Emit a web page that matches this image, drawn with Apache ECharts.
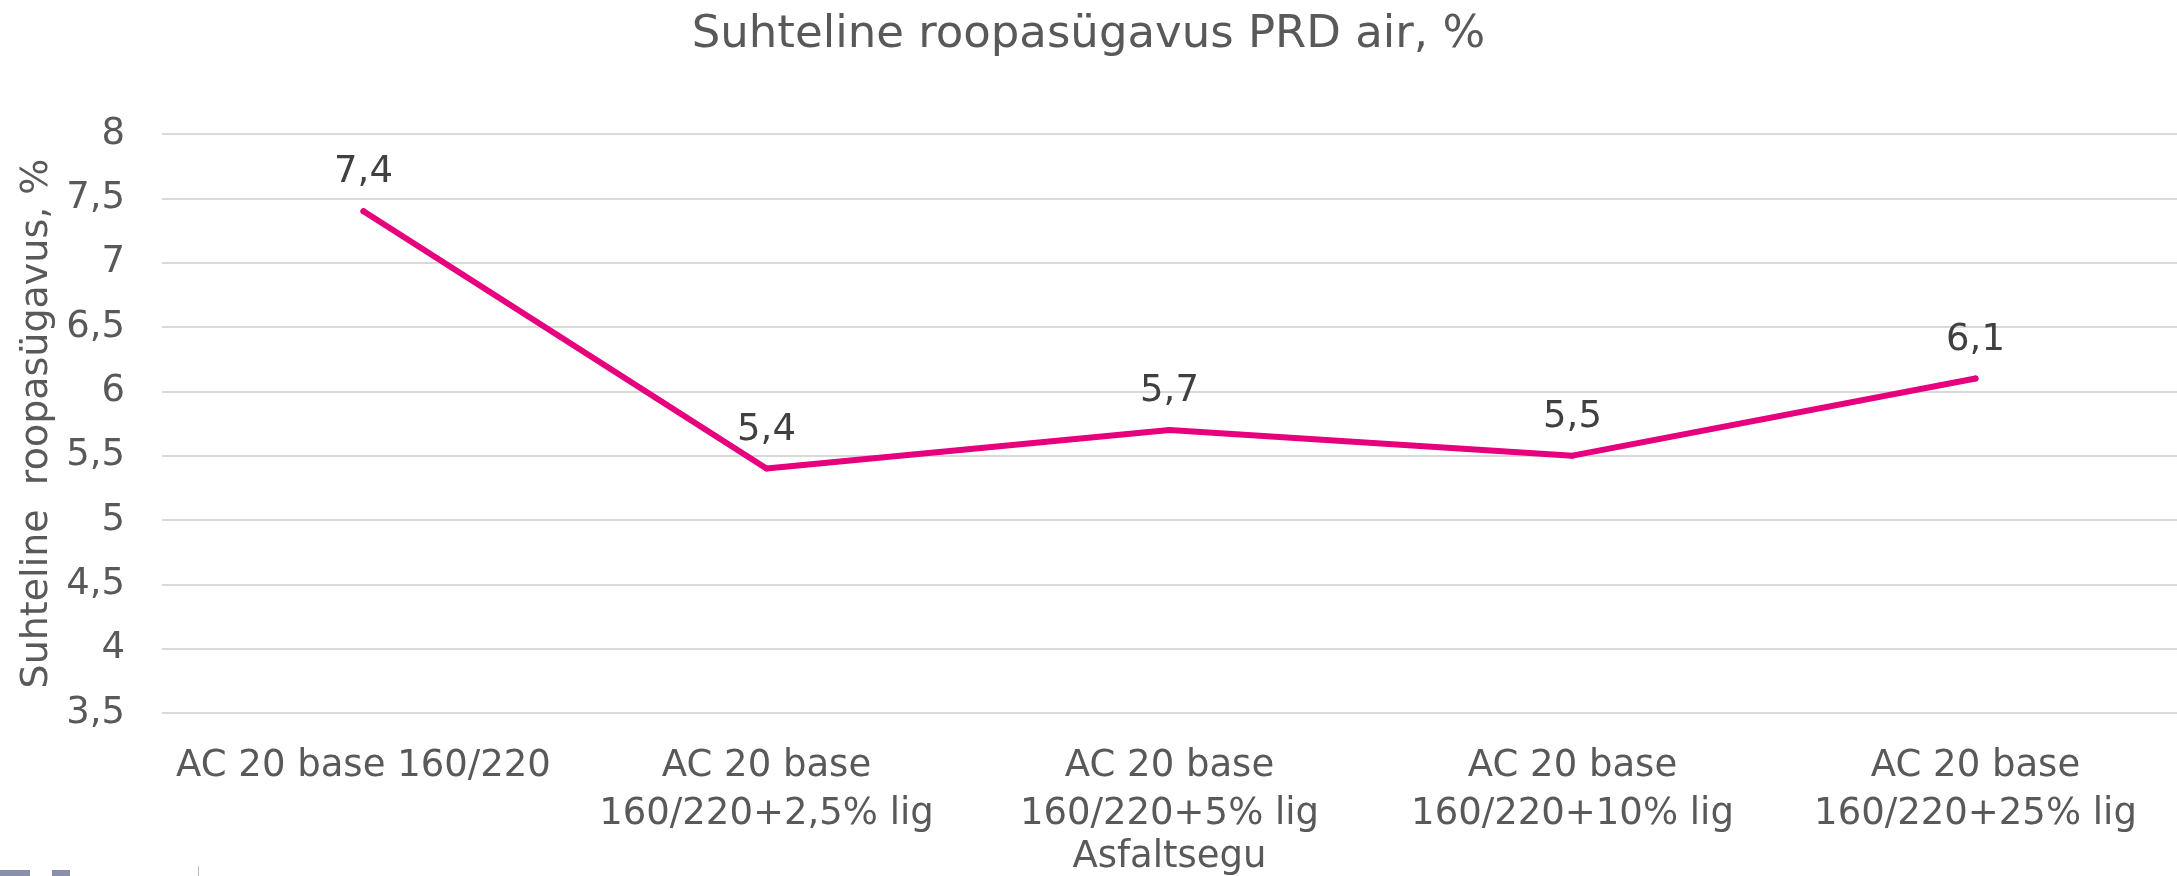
<!DOCTYPE html>
<html>
<head>
<meta charset="utf-8">
<script src="https://cdn.jsdelivr.net/npm/echarts@6/dist/echarts.min.js"></script>
<style>
  html, body { margin: 0; padding: 0; background: #fff; }
  #chart { width: 2177px; height: 876px; }
</style>
</head>
<body>
<div id="chart"></div>
<script>
// chart data
const categories = [
  'AC 20 base 160/220',
  'AC 20 base\n160/220+2,5% lig',
  'AC 20 base\n160/220+5% lig',
  'AC 20 base\n160/220+10% lig',
  'AC 20 base\n160/220+25% lig'
];
const prdValues = [7.4, 5.4, 5.7, 5.5, 6.1];

const font = '"DejaVu Sans", Verdana, sans-serif';
const comma = v => String(v).replace('.', ',');

const chartDom = document.getElementById('chart');
const myChart = echarts.init(chartDom);

const option = {
  animation: false,
  title: {
    text: 'Suhteline roopasügavus PRD air, %',
    left: 'center',
    top: 8,
    textStyle: { fontFamily: font, fontSize: 45, fontWeight: 'normal', color: '#595959' }
  },
  grid: { left: 162, right: 0, top: 134, bottom: 163, outerBoundsMode: 'none' },
  xAxis: {
    type: 'category',
    data: categories,
    name: 'Asfaltsegu',
    nameLocation: 'middle',
    nameGap: 126,
    nameMoveOverlap: false,
    nameTextStyle: { fontFamily: font, fontSize: 37, color: '#595959' },
    axisLine: { show: false },
    axisTick: { show: false },
    axisLabel: {
      interval: 0,
      margin: 29,
      fontFamily: font,
      fontSize: 37,
      lineHeight: 48,
      color: '#595959'
    }
  },
  yAxis: {
    type: 'value',
    min: 3.5,
    max: 8,
    interval: 0.5,
    name: 'Suhteline  roopasügavus, %',
    nameLocation: 'middle',
    nameGap: 106,
    nameMoveOverlap: false,
    nameTextStyle: { fontFamily: font, fontSize: 38, color: '#595959' },
    axisLine: { show: false },
    axisTick: { show: false },
    axisLabel: {
      margin: 37,
      fontFamily: font,
      fontSize: 37,
      color: '#595959',
      formatter: comma
    },
    splitLine: { lineStyle: { color: '#d9d9d9', width: 2 } }
  },
  // cut-off logo at the bottom edge
  graphic: [
    { type: 'rect', left: 0, bottom: 0, shape: { width: 30, height: 6 }, style: { fill: '#8890ad' } },
    { type: 'rect', left: 52, bottom: 0, shape: { width: 18, height: 6 }, style: { fill: '#8890ad' } },
    { type: 'rect', left: 198, bottom: 0, shape: { width: 1, height: 10 }, style: { fill: '#b4b9cc' } }
  ],
  series: [
    {
      type: 'line',
      data: prdValues,
      symbol: 'circle',
      symbolSize: 6,
      itemStyle: { color: '#e6007e' },
      lineStyle: { color: '#e6007e', width: 6, cap: 'round', join: 'round' },
      label: {
        show: true,
        position: 'top',
        distance: 17,
        fontFamily: font,
        fontSize: 37,
        color: '#404040',
        formatter: p => comma(p.value)
      }
    }
  ]
};

myChart.setOption(option);

window.addEventListener('resize', () => myChart.resize());
</script>
</body>
</html>
